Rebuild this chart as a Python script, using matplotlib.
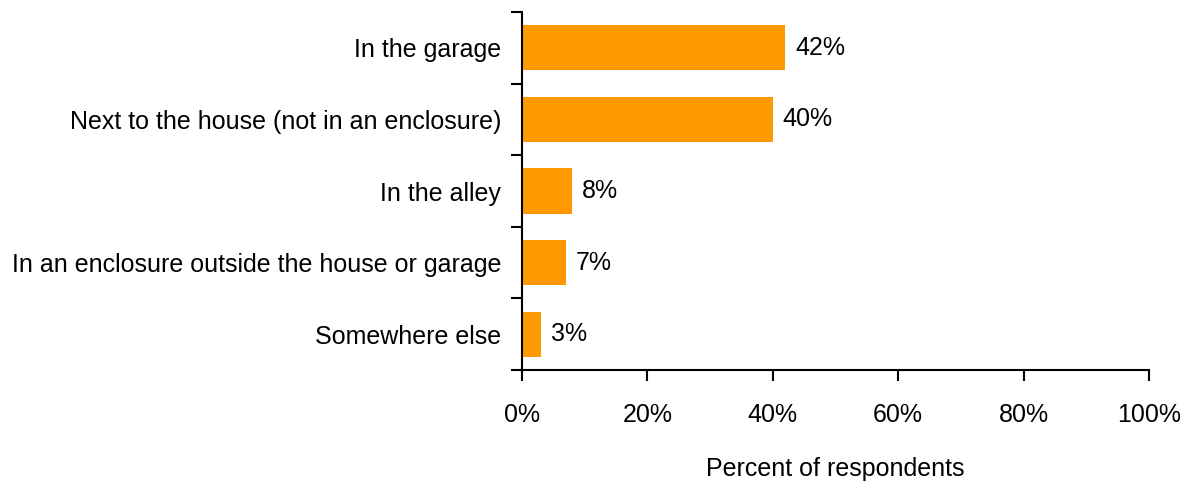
import matplotlib.pyplot as plt
from matplotlib.ticker import FixedLocator

categories = [
    "In the garage",
    "Next to the house (not in an enclosure)",
    "In the alley",
    "In an enclosure outside the house or garage",
    "Somewhere else",
]
values = [42, 40, 8, 7, 3]
x_ticks = [0, 20, 40, 60, 80, 100]

plt.rcParams["font.family"] = ["Liberation Sans", "DejaVu Sans"]
plt.rcParams["font.size"] = 18

fig = plt.figure(figsize=(11.93, 4.83), dpi=100)
ax = fig.add_axes([522 / 1193, 113 / 483, 627 / 1193, 358 / 483])

n = len(categories)
ypos = list(range(n))[::-1]
ax.barh(ypos, values, height=0.63, color="#FF9900")
for y, v in zip(ypos, values):
    ax.text(v + 1.6, y, f"{v}%", va="center", ha="left")

ax.set_xlim(0, 100)
ax.set_ylim(-0.5, n - 0.5)
ax.set_xticks(x_ticks)
ax.set_xticklabels([f"{t}%" for t in x_ticks])
ax.set_yticks(ypos)
ax.set_yticklabels(categories)
ax.yaxis.set_minor_locator(FixedLocator([i - 0.5 for i in range(n + 1)]))
ax.tick_params(axis="y", which="major", length=0, pad=15)
ax.tick_params(axis="y", which="minor", length=8, width=1.5, direction="out")
ax.tick_params(axis="x", length=8, width=1.5, direction="out", pad=15.5)
for s in ["top", "right"]:
    ax.spines[s].set_visible(False)
for s in ["left", "bottom"]:
    ax.spines[s].set_linewidth(1.5)
ax.set_xlabel("Percent of respondents", labelpad=22)

fig.savefig("out.png", dpi=100)
